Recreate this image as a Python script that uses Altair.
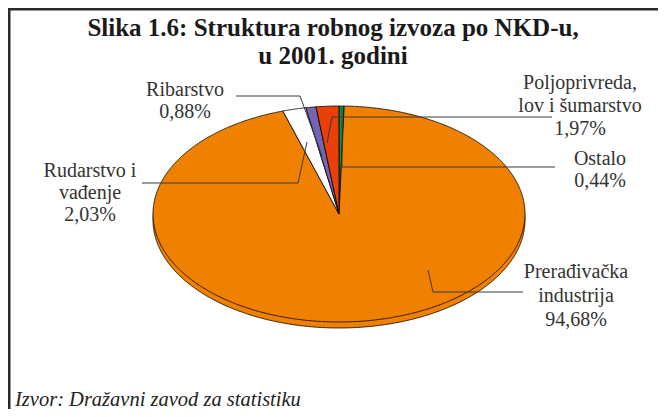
import math
import altair as alt
import pandas as pd

# ---------------- data ----------------
categories = ["Ostalo", "Prerađivačka industrija", "Rudarstvo i vađenje",
              "Ribarstvo", "Poljoprivreda, lov i šumarstvo"]
shares = [0.44, 94.68, 2.03, 0.88, 1.97]
slice_colors = ["#00A050", "#F08000", "#FFFFFF", "#7563B3", "#E84008"]
label_heads = ["Ostalo", "Prerađivačka\nindustrija", "Rudarstvo i\nvađenje",
               "Ribarstvo", "Poljoprivreda,\nlov i šumarstvo"]
title_lines = ["Slika 1.6: Struktura robnog izvoza po NKD-u,", "u 2001. godini"]
source_text = "Izvor: Dražavni zavod za statistiku"

# ---------------- layout (chart pixels) ----------------
W, H = 650, 401
CX, CY = 331, 206        # pie centre
RX, RY = 186, 108        # ellipse radii
DEPTH = 6                # 3-D rim depth
SERIF = "Liberation Serif"
label_pos = [(592, 157, 22), (568, 270, 24), (82, 169, 22), (177, 88, 22), (572, 81, 23)]
title_pos = [(325, 28), (325, 56)]
leaders = [
    [(547, 159), (334, 159), (334, 100)],
    [(515, 284), (425, 284), (420, 262)],
    [(134, 175), (290, 175), (299, 134)],
    [(228, 88), (292, 88), (314, 148)],
    [(544, 109), (324, 109), (319, 135)],
]

PROJ = dict(type="identity", scale=1, translate=[0, 0], reflectY=False)


def arc_pts(t0, t1, dy=0.0):
    n = max(2, int(abs(t1 - t0) / 0.4) + 1)
    pts = []
    for i in range(n + 1):
        t = math.radians(t0 + (t1 - t0) * i / n)
        pts.append([CX + RX * math.sin(t), CY + dy - RY * math.cos(t)])
    return pts


# slices
features = []
cum = 0.0
total = sum(shares)
for cat, v in zip(categories, shares):
    a0 = cum / total * 360.0
    cum += v
    a1 = cum / total * 360.0
    ring = [[CX, CY]] + arc_pts(a0, a1) + [[CX, CY]]
    features.append({"type": "Feature", "properties": {"name": cat},
                     "geometry": {"type": "Polygon", "coordinates": [ring]}})

# rim (shifted ellipse beneath top face)
rim_ring = arc_pts(0, 360, DEPTH)
rim_feature = [{"type": "Feature", "properties": {"name": "rim"},
                "geometry": {"type": "Polygon", "coordinates": [rim_ring]}}]

leader_features = [{"type": "Feature", "properties": {"i": i},
                    "geometry": {"type": "LineString", "coordinates": [list(p) for p in pts]}}
                   for i, pts in enumerate(leaders)]

rim = alt.Chart(alt.Data(values=rim_feature)).mark_geoshape(
    fill="#F08000", stroke="#000000", strokeWidth=0.8).project(**PROJ)

pie = alt.Chart(alt.Data(values=features)).mark_geoshape(
    stroke="#000000", strokeWidth=0.8).encode(
    color=alt.Color("properties.name:N",
                    scale=alt.Scale(domain=categories, range=slice_colors),
                    legend=None)).project(**PROJ)

lead = alt.Chart(alt.Data(values=leader_features)).mark_geoshape(
    filled=False, stroke="#3a3a3a", strokeWidth=1).project(**PROJ)

layers = [rim, pie, lead]

# slice labels
for head, v, (x, y, lh) in zip(label_heads, shares, label_pos):
    txt = head + "\n" + (f"{v:.2f}".replace(".", ",")) + "%"
    layers.append(
        alt.Chart(pd.DataFrame({"t": [txt]})).mark_text(
            align="center", baseline="alphabetic", font=SERIF,
            fontSize=20, lineBreak="\n", lineHeight=lh, color="#333333"
        ).encode(x=alt.value(x), y=alt.value(y), text="t:N")
    )

# title (two lines)
for line, (x, y) in zip(title_lines, title_pos):
    layers.append(
        alt.Chart(pd.DataFrame({"t": [line]})).mark_text(
            align="center", baseline="alphabetic", font=SERIF,
            fontSize=25, fontWeight="bold", color="#1a1a1a"
        ).encode(x=alt.value(x), y=alt.value(y), text="t:N")
    )

# source
layers.append(
    alt.Chart(pd.DataFrame({"t": [source_text]})).mark_text(
        align="left", baseline="alphabetic", font=SERIF,
        fontSize=20.5, fontStyle="italic", color="#222222"
    ).encode(x=alt.value(7), y=alt.value(398), text="t:N")
)

# frame (top and left edges)
one = pd.DataFrame({"a": [0]})
layers.append(alt.Chart(one).mark_rule(color="#2a2a2a", strokeWidth=3).encode(
    x=alt.value(0), x2=alt.value(W), y=alt.value(1)))
layers.append(alt.Chart(one).mark_rule(color="#2a2a2a", strokeWidth=3).encode(
    x=alt.value(1), y=alt.value(0), y2=alt.value(H)))

chart = alt.layer(*layers).properties(
    width=W, height=H, padding=0,
    autosize=alt.AutoSizeParams(type="none"),
    background="#FFFFFF",
).configure_view(stroke=None)

chart.save("out.html", embed_options={"renderer": "svg", "actions": False})
